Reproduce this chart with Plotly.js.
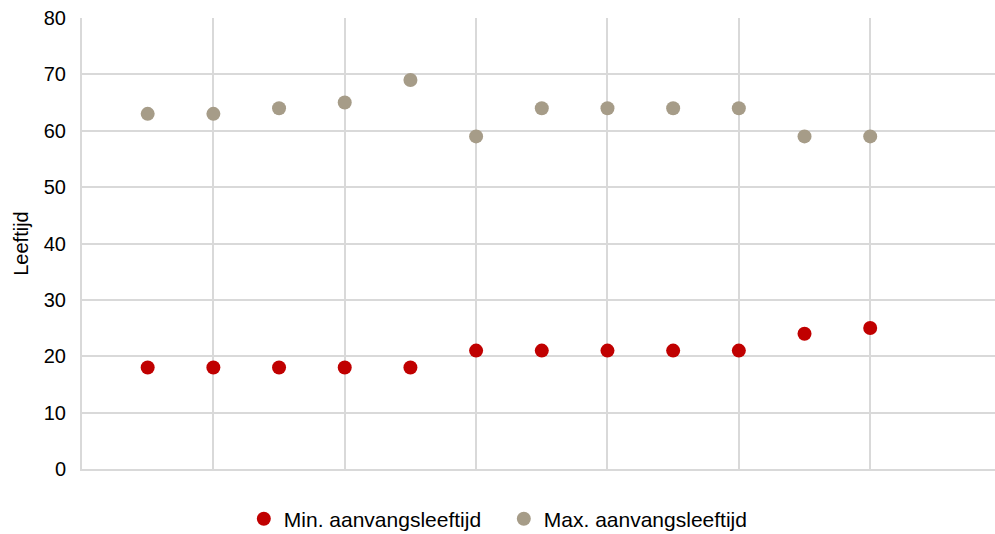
<!DOCTYPE html>
<html>
<head>
<meta charset="utf-8">
<script src="https://cdn.plot.ly/plotly-3.0.1.min.js"></script>
<style>html,body{margin:0;padding:0;background:#fff;overflow:hidden;}#chart{width:995px;height:534px;}</style>
</head>
<body>
<div id="chart"></div>
<script>
const xValues = [1,2,3,4,5,6,7,8,9,10,11,12];
const minAge = [18,18,18,18,18,21,21,21,21,21,24,25];
const maxAge = [63,63,64,65,69,59,64,64,64,64,59,59];
const seriesNames = ['Min. aanvangsleeftijd', 'Max. aanvangsleeftijd'];
const yTicks = [0,10,20,30,40,50,60,70,80];

const font = {family: 'Liberation Sans, Arial, sans-serif', color: '#000'};
const traces = [
  {x: xValues, y: minAge, name: seriesNames[0], type: 'scatter', mode: 'markers',
   marker: {color: '#C00000', size: 14}},
  {x: xValues, y: maxAge, name: seriesNames[1], type: 'scatter', mode: 'markers',
   marker: {color: '#A69C88', size: 14}}
];
const layout = {
  width: 995, height: 534,
  margin: {l: 82, r: 0, t: 18, b: 65},
  paper_bgcolor: '#fff', plot_bgcolor: '#fff',
  font: Object.assign({size: 20}, font),
  showlegend: true,
  legend: {orientation: 'h', x: 0.462, xanchor: 'center', yref: 'container', y: 0.028, yanchor: 'middle',
           font: Object.assign({size: 21}, font), itemwidth: 30, tracegroupgap: 0,
           entrywidth: 215, entrywidthmode: 'pixels'},
  xaxis: {range: [0, 13.9], dtick: 2, tick0: 0, showticklabels: false,
          showgrid: true, gridcolor: '#d9d9d9', gridwidth: 2, zeroline: false,
          showline: true, linecolor: '#d9d9d9', linewidth: 2, ticks: '', fixedrange: true},
  yaxis: {range: [0, 80], tickvals: yTicks, showgrid: true, gridcolor: '#d9d9d9', gridwidth: 2,
          zeroline: false, showline: true, linecolor: '#d9d9d9', linewidth: 2, ticks: '',
          ticklabelstandoff: 10,
          tickfont: Object.assign({size: 20}, font),
          title: {text: 'Leeftijd', font: Object.assign({size: 20}, font), standoff: 10}}
};
Plotly.newPlot('chart', traces, layout, {displayModeBar: false, staticPlot: true});
</script>
</body>
</html>
